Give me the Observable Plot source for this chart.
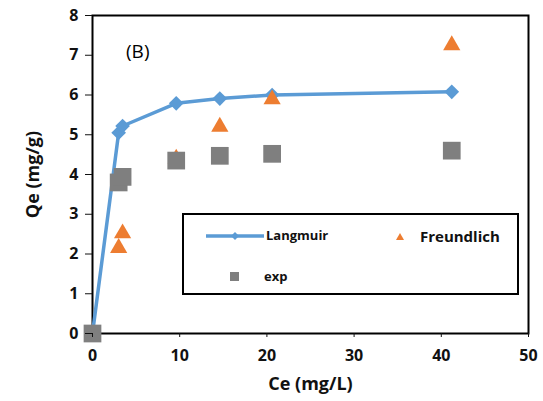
<!DOCTYPE html>
<html><head><meta charset="utf-8">
<script src="https://cdn.jsdelivr.net/npm/d3@7"></script>
<script src="https://cdn.jsdelivr.net/npm/@observablehq/plot@0.6"></script>
<style>
body{margin:0;background:#fff;font-family:"Open Sans",sans-serif;}
#wrap{position:relative;width:543px;height:401px;}
#legend{position:absolute;left:182px;top:213px;width:337px;height:82px;border:2px solid #000;background:#fff;box-sizing:border-box;font-weight:bold;}
#legend .t{position:absolute;font-size:13px;color:#111;}
#note{position:absolute;left:126px;top:38px;font-size:19px;}
</style></head>
<body><div id="wrap"><div id="chart"></div>
<div id="note">(B)</div>
<div id="legend">
<svg width="337" height="82" style="position:absolute;left:0;top:0">
<line x1="22" x2="80" y1="21" y2="21" stroke="#5B9BD5" stroke-width="3.5"/>
<path d="M51,17 L55,21 L51,25 L47,21Z" fill="#5B9BD5"/>
<path d="M216,18 L220,25 L212,25Z" fill="#ED7D31"/>
<rect x="46" y="57" width="9" height="9" fill="#7F7F7F"/>
</svg>
<span class="t" style="left:82px;top:11px">Langmuir</span>
<span class="t" style="left:236px;top:11px;font-size:15px">Freundlich</span>
<span class="t" style="left:80px;top:52px">exp</span>
</div></div>
<script>
const ce = [0, 3.0, 3.45, 9.6, 14.6, 20.6, 41.2];
const langmuir = [0, 5.05, 5.22, 5.79, 5.91, 6.0, 6.08];
const freundlich = [0, 2.15, 2.52, 4.4, 5.2, 5.89, 7.25];
const expVals = [0, 3.8, 3.94, 4.35, 4.47, 4.52, 4.6];
const xTicks = [0, 10, 20, 30, 40, 50];
const yTicks = [0, 1, 2, 3, 4, 5, 6, 7, 8];

const L = ce.map((x, i) => ({x, y: langmuir[i]}));
const F = ce.slice(1).map((x, i) => ({x, y: freundlich[i + 1]}));
const E = ce.map((x, i) => ({x, y: expVals[i]}));

const chart = Plot.plot({
  width: 543, height: 401,
  marginLeft: 92, marginRight: 15, marginTop: 15, marginBottom: 68,
  style: {fontFamily: "Open Sans, sans-serif", fontWeight: "bold", fontSize: "16px", color: "#111"},
  x: {domain: [0, 50], label: null},
  y: {domain: [0, 8], label: null},
  marks: [
    Plot.frame({stroke: "#000", strokeWidth: 2}),
    Plot.line(L, {x: "x", y: "y", stroke: "#5B9BD5", strokeWidth: 3.5}),
    Plot.dot(L.slice(1), {x: "x", y: "y", symbol: "diamond2", r: 6.6, fill: "#5B9BD5"}),
    Plot.dot(F, {x: "x", y: "y", symbol: "triangle", r: 6.4, fill: "#ED7D31"}),
    Plot.dot(E, {x: "x", y: "y", symbol: "square", r: 10, fill: "#7F7F7F"}),
    Plot.axisX({ticks: xTicks, tickSize: 4, tickPadding: 12, label: null, fontSize: 16}),
    Plot.axisY({ticks: yTicks, tickSize: 7, tickPadding: 7, label: null, fontSize: 16}),
    Plot.axisX({ticks: [], label: "Ce (mg/L)", labelAnchor: "center", labelArrow: "none", labelOffset: 56, fontSize: 18}),
    Plot.axisY({ticks: [], label: "Qe (mg/g)", labelAnchor: "center", labelArrow: "none", labelOffset: 66, fontSize: 18})
  ]
});
document.getElementById("chart").appendChild(chart);
</script>
</body></html>
